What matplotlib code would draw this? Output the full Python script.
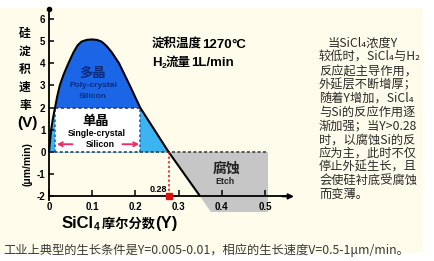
import matplotlib
matplotlib.use('Agg')
import matplotlib.pyplot as plt
from matplotlib.patches import Rectangle, Polygon

# ---------------- data ----------------
Y_curve = [0.0, 0.005, 0.009, 0.014, 0.019, 0.025, 0.034, 0.045, 0.057, 0.066, 0.075,
           0.087, 0.099, 0.111, 0.122, 0.133, 0.145, 0.162, 0.187, 0.211, 0.244, 0.277, 0.35]
V_curve = [0.0, 1.0, 1.5, 2.0, 2.5, 3.0, 3.5, 4.0, 4.5, 4.8, 4.97,
           5.05, 5.07, 5.05, 4.97, 4.78, 4.5, 4.0, 3.0, 2.0, 1.0, 0.0, -2.0]
V_poly = 2.0                      # boundary poly / single crystal
single_Y = [0.014, 0.211]         # single-crystal window
etch_Y = [0.277, 0.507, 0.507, 0.3755]
etch_V = [0.0, 0.0, -2.7, -2.7]
Y_etch_start = 0.277
etch_label = '0.28'
y_ticks = [-2, -1, 0, 1, 2, 3, 4, 5, 6]
y_tick_labels = ['-2', '-1', '0', '1', '2', '3', '4', '5', '6']
x_ticks = [0, 0.1, 0.2, 0.3, 0.4, 0.5]
x_tick_labels = ['0', '0.1', '0.2', '0.3', '0.4', '0.5']
para_lines = ['当SiCl₄浓度Y', '较低时，SiCl₄与H₂', '反应起主导作用，', '外延层不断增厚；',
              '随着Y增加，SiCl₄', '与Si的反应作用逐', '渐加强；当Y>0.28', '时，以腐蚀Si的反',
              '应为主，此时不仅', '停止外延生长，且', '会使硅衬底受腐蚀', '而变薄。']
caption = '工业上典型的生长条件是Y=0.005-0.01，相应的生长速度V=0.5-1μm/min。'
ylabel_chars = ['硅', '淀', '积', '速', '率']

# ---------------- style ----------------
LAT = ['Liberation Sans', 'Noto Sans CJK SC', 'DejaVu Sans']
CJK = ['Noto Sans CJK SC', 'DejaVu Sans']
DARK_BLUE = '#1A66E6'
LIGHT_BLUE = '#3DB4F2'
GRAY = '#C6C6C6'
NAVY = '#0B2A7A'
RED = '#E01010'
PINK = '#E8306A'

W, H = 435, 261
fig = plt.figure(figsize=(W / 100, H / 100), dpi=100)
fig.patch.set_facecolor('white')
fig.patches.append(Rectangle((0, 1 - 253 / H), 423 / W, (253 - 8) / H, transform=fig.transFigure,
                             facecolor='#FFFCEB', edgecolor='none', zorder=-10))


def fx(x):
    return x / W


def fy(y):
    return 1 - y / H


ax = fig.add_axes([27.4 / W, 1 - 218.6 / H, 280.8 / W, 213.1 / H])
ax.set_xlim(-0.05, 0.6)
ax.set_ylim(-3.0, 6.6)
ax.patch.set_alpha(0)

# fills
ax.fill_between(Y_curve, V_curve, V_poly, where=[v >= V_poly for v in V_curve],
                interpolate=True, color=DARK_BLUE, lw=0, zorder=1)
ax.fill_between(Y_curve, 0, [min(v, V_poly) for v in V_curve], where=[v >= 0 for v in V_curve],
                interpolate=True, color=LIGHT_BLUE, lw=0, zorder=1)
ax.add_patch(Rectangle((single_Y[0], 0), single_Y[1] - single_Y[0], V_poly, facecolor='white',
                       edgecolor='none', zorder=2))
ax.add_patch(Polygon(list(zip(etch_Y, etch_V)), closed=True, facecolor=GRAY, edgecolor='none',
                     zorder=1, clip_on=False))

# dotted boundaries
ax.plot(single_Y, [V_poly, V_poly], linestyle=(0, (2, 1.5)), color='#1F3C8C', lw=1.2, zorder=3)
for xs in single_Y:
    ax.plot([xs, xs], [0, V_poly], linestyle=(0, (1.5, 1.5)), color='#2A5DB0', lw=1.2, zorder=3)
ax.plot([0, etch_Y[1]], [0, 0], linestyle=(0, (2, 1.5)), color='#333333', lw=1.1, zorder=3)

# curve
ax.plot(Y_curve, V_curve, color='black', lw=1.5, zorder=4, solid_capstyle='butt')

# red marker
ax.plot([Y_etch_start, Y_etch_start], [0, -2], linestyle=(0, (1.5, 1.5)), color=RED, lw=1.1, zorder=4)
ax.plot([Y_etch_start], [-2], 's', color=RED, ms=4, zorder=6, clip_on=False)
ax.text(0.253, -1.67, etch_label, ha='center', va='center', fontsize=6.5, fontweight='bold',
        family=LAT, zorder=6)

# axes
for s in ['top', 'right']:
    ax.spines[s].set_visible(False)
ax.spines['left'].set_position(('data', 0))
ax.spines['bottom'].set_position(('data', -2.0))
ax.spines['left'].set_bounds(-2.15, 6.45)
ax.spines['bottom'].set_bounds(0, 0.555)
for s in ['left', 'bottom']:
    ax.spines[s].set_linewidth(1.3)
    ax.spines[s].set_zorder(5)
ax.set_yticks(y_ticks)
ax.set_yticklabels(y_tick_labels, fontweight='bold', family=LAT)
ax.set_xticks(x_ticks)
ax.set_xticklabels(x_tick_labels, fontweight='bold', family=LAT)
ax.tick_params(axis='y', direction='in', length=3.6, width=1.1, pad=2.5, labelsize=7)
ax.tick_params(axis='x', direction='in', length=4.5, width=1.1, pad=4, labelsize=7)
ax.annotate('', xy=(0.567, -2.0), xytext=(0.54, -2.0),
            arrowprops=dict(arrowstyle='-|>', color='black', lw=1.3, mutation_scale=8,
                            shrinkA=0, shrinkB=0), annotation_clip=False, zorder=5)
ax.plot([0], [6.45], 'o', color='black', ms=3, clip_on=False, zorder=6)

# region labels
ax.text(0.1, 3.57, '多晶', ha='center', va='center', fontsize=9.5, fontweight='bold', color=NAVY, family=CJK, zorder=6)
ax.text(0.102, 3.0, 'Poly-crystal', ha='center', va='center', fontsize=6, fontweight='bold', color=NAVY, family=LAT, zorder=6)
ax.text(0.101, 2.52, 'Silicon', ha='center', va='center', fontsize=6, fontweight='bold', color=NAVY, family=LAT, zorder=6)
ax.text(0.107, 1.41, '单晶', ha='center', va='center', fontsize=9.5, fontweight='bold', color='black', family=CJK, zorder=6)
ax.text(0.11, 0.83, 'Single-crystal', ha='center', va='center', fontsize=6.3, fontweight='bold', color='black', family=LAT, zorder=6)
ax.text(0.118, 0.35, 'Silicon', ha='center', va='center', fontsize=6.3, fontweight='bold', color='black', family=LAT, zorder=6)
ax.annotate('', xy=(0.018, 0.35), xytext=(0.054, 0.35),
            arrowprops=dict(arrowstyle='->', color=PINK, lw=1.4, mutation_scale=7, shrinkA=0, shrinkB=0), zorder=6)
ax.annotate('', xy=(0.209, 0.35), xytext=(0.17, 0.35),
            arrowprops=dict(arrowstyle='->', color=PINK, lw=1.4, mutation_scale=7, shrinkA=0, shrinkB=0), zorder=6)
ax.text(0.411, -0.73, '腐蚀', ha='center', va='center', fontsize=10, fontweight='bold', color='#222222', family=CJK, zorder=6)
ax.text(0.408, -1.34, 'Etch', ha='center', va='center', fontsize=6.3, fontweight='bold', color='#222222', family=LAT, zorder=6)

renderer = fig.canvas.get_renderer()


def seq(pieces, x_px, base_px):
    x = x_px
    for s, size, fam, dy in pieces:
        t = fig.text(fx(x), fy(base_px + dy), s, ha='left', va='baseline', fontsize=size,
                     fontweight='bold', family=fam)
        x += t.get_window_extent(renderer).width


# conditions text
seq([('淀积温度', 9, CJK, 0), ('1270', 9.5, LAT, 0), ('°C', 9.5, LAT, 0)], 151.7, 48)
seq([('H', 9.5, LAT, 0), ('2', 6, LAT, 2), ('流量', 9, CJK, 0), ('1L/min', 9.5, LAT, 0)], 151.7, 66)

# x label
seq([('SiCl', 12, LAT, 0), ('4', 7.5, LAT, 2), (' 摩尔分数', 9.5, CJK, 0), ('(Y)', 12, LAT, 0)], 61.7, 228)

# y label
for i, ch in enumerate(ylabel_chars):
    fig.text(fx(25), fy(33 + 18.2 * i), ch, ha='center', va='center', fontsize=8.5,
             fontweight='bold', family=CJK)
fig.text(fx(27), fy(123), '(V)', ha='center', va='center', fontsize=11, fontweight='bold', family=LAT)
fig.text(fx(28), fy(164), '(μm/min)', ha='center', va='center', fontsize=7.5, fontweight='bold',
         family=LAT, rotation=90)

# paragraph
for i, line in enumerate(para_lines):
    x0 = 328 if i == 0 else 319
    fig.text(fx(x0), fy(43 + 13.8 * i), line, ha='left', va='center', fontsize=8.8,
             color='#2A2A2A', family=CJK)

# caption
t = fig.text(fx(3), fy(250), caption, ha='left', va='center', fontsize=8, color='#3A3A3A', family=CJK)
w = t.get_window_extent(renderer).width
t.set_fontsize(8 * 407 / w)

fig.savefig('out.png', dpi=100)
